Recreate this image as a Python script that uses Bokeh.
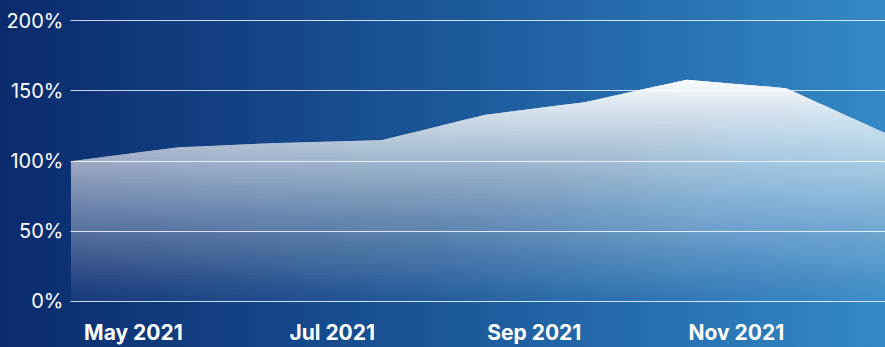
import numpy as np
from bokeh.plotting import figure
from bokeh.models import Range1d, FixedTicker, PrintfTickFormatter
from bokeh.embed import file_html
from bokeh.resources import INLINE

# ---- data ----
dates = ["2021-04-28", "2021-05-31", "2021-06-30", "2021-07-31", "2021-08-31",
         "2021-09-30", "2021-10-31", "2021-11-30", "2021-12-30"]
values = [100, 110, 113, 115, 133, 142, 158, 152, 120]          # percent
y_ticks = [0, 50, 100, 150, 200]
x_tick_dates = ["2021-05-17", "2021-07-16", "2021-09-15", "2021-11-15"]
x_tick_labels = ["May 2021", "Jul 2021", "Sep 2021", "Nov 2021"]

xs = np.array(dates, dtype="datetime64[ms]").astype("int64").astype(float)
vs = np.array(values, dtype=float)
tick_ms = np.array(x_tick_dates, dtype="datetime64[ms]").astype("int64").astype(float)

p = figure(width=885, height=347, x_axis_type="datetime",
           x_range=Range1d(xs[0], xs[-1]), y_range=Range1d(-1, 201),
           output_backend="svg", toolbar_location=None,
           min_border_left=70, min_border_right=0, min_border_top=19, min_border_bottom=44)

p.styles = {"background-image": "linear-gradient(90deg, #0a2a6c 0%, #1b5799 50%, #3489c7 100%)"}
p.background_fill_color = None
p.border_fill_color = None
p.outline_line_color = None

# ---- gradient area: nested layers whose alpha accumulates with height ----
M = vs.max()
N = 60
levels = np.arange(N) * M / N
px = list(xs)
for i in range(len(xs) - 1):
    v0, v1 = vs[i], vs[i + 1]
    for L in levels:
        if (L - v0) * (L - v1) < 0:
            px.append(xs[i] + (L - v0) / (v1 - v0) * (xs[i + 1] - xs[i]))
px = np.unique(np.array(px))
curve = np.interp(px, xs, vs)

a_lo, a_hi = 0.04, 0.98
prev = 0.0
for k in range(N):
    A = a_lo + (a_hi - a_lo) * (k + 0.5) / N
    a = 1 - (1 - A) / (1 - prev)
    prev = A
    p.varea(x=px, y1=np.minimum(curve, levels[k]), y2=curve,
            fill_color="white", fill_alpha=float(a))

# ---- grid ----
p.xgrid.visible = False
p.ygrid.ticker = FixedTicker(ticks=y_ticks)
p.ygrid.grid_line_color = "white"
p.ygrid.grid_line_alpha = 0.8
p.ygrid.grid_line_width = 1
p.ygrid.level = "overlay"

# ---- axes ----
ya = p.yaxis[0]
ya.ticker = FixedTicker(ticks=y_ticks)
ya.formatter = PrintfTickFormatter(format="%d%%")
ya.axis_line_color = None
ya.major_tick_line_color = None
ya.minor_tick_line_color = None
ya.major_tick_out = 0
ya.major_tick_in = 0
ya.major_label_standoff = 7
ya.major_label_text_font = "Inter"
ya.major_label_text_font_size = "20px"
ya.major_label_text_color = "white"

xa = p.xaxis[0]
xa.ticker = FixedTicker(ticks=list(tick_ms))
xa.major_label_overrides = {float(t): lab for t, lab in zip(tick_ms, x_tick_labels)}
xa.axis_line_color = None
xa.major_tick_line_color = None
xa.minor_tick_line_color = None
xa.major_tick_out = 0
xa.major_tick_in = 0
xa.major_label_standoff = 17
xa.major_label_text_font = "Inter"
xa.major_label_text_font_size = "21px"
xa.major_label_text_font_style = "bold"
xa.major_label_text_color = "white"

open("out.html", "w").write(file_html(p, INLINE))
